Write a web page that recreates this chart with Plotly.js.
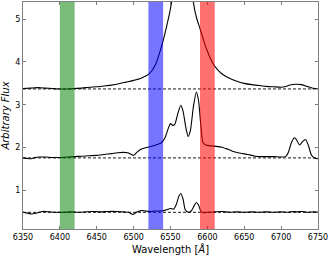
<!DOCTYPE html>
<html><head><meta charset="utf-8">
<script src="https://cdn.plot.ly/plotly-3.0.1.min.js"></script>
<style>html,body{margin:0;padding:0;background:#fff;}#plot{width:330px;height:264px;}</style>
</head><body><div id="plot"></div>
<script>
// Wavelength samples and flux values
const topWave = [6350,6360,6370,6380,6390,6400,6410,6420,6430,6440,6450,6460,6470,6480,6490,6500,6510,6515,6520,6525,6530,6535,6540,6545,6550,6555,6560,6566,6572,6577,6581,6585,6590,6595,6600,6605,6610,6615,6620,6630,6640,6650,6660,6670,6680,6690,6700,6705,6712,6720,6728,6735,6742,6750];
const topFlux = [3.38,3.39,3.40,3.39,3.38,3.37,3.37,3.38,3.39,3.41,3.42,3.44,3.46,3.49,3.53,3.57,3.62,3.66,3.71,3.80,3.95,4.20,4.50,4.85,5.25,5.90,7.50,9.50,7.80,6.30,5.40,5.05,4.78,4.50,4.25,4.05,3.90,3.80,3.72,3.62,3.55,3.50,3.47,3.45,3.43,3.42,3.41,3.42,3.46,3.48,3.47,3.43,3.39,3.37];

const midWave = [6350,6355,6360,6365,6372,6380,6390,6400,6410,6420,6430,6440,6450,6460,6470,6478,6486,6492,6496,6500,6505,6510,6515,6522,6530,6538,6543,6547,6550,6553,6556,6560,6564,6567,6571,6574,6577,6581,6585,6588,6591,6594,6598,6605,6612,6620,6628,6635,6645,6655,6665,6675,6690,6700,6706,6710,6714,6718,6721,6725,6729,6733,6737,6741,6745,6750];
const midFlux = [1.76,1.75,1.74,1.76,1.78,1.78,1.77,1.77,1.78,1.79,1.80,1.81,1.82,1.84,1.86,1.88,1.89,1.88,1.85,1.82,1.90,1.96,1.99,2.02,2.06,2.12,2.25,2.45,2.56,2.52,2.55,2.80,2.99,2.85,2.45,2.26,2.40,2.95,3.30,3.10,2.55,2.12,2.06,2.04,2.03,2.01,1.96,1.91,1.87,1.84,1.80,1.79,1.79,1.78,1.79,1.90,2.12,2.23,2.18,2.06,2.14,2.19,2.05,1.83,1.76,1.74];

const lowWave = [6350,6356,6362,6368,6377,6386,6395,6405,6415,6425,6435,6445,6455,6465,6477,6487,6493,6499,6505,6510,6516,6522,6530,6538,6545,6550,6554,6558,6561,6564,6567,6570,6574,6578,6582,6585,6588,6591,6595,6600,6610,6620,6630,6640,6650,6660,6670,6680,6690,6700,6710,6716,6722,6728,6735,6745,6750];
const lowFlux = [0.49,0.47,0.45,0.47,0.51,0.50,0.49,0.49,0.50,0.49,0.50,0.51,0.50,0.51,0.51,0.50,0.49,0.44,0.50,0.53,0.52,0.51,0.52,0.52,0.55,0.58,0.56,0.68,0.85,0.93,0.80,0.55,0.49,0.52,0.64,0.72,0.66,0.52,0.48,0.49,0.50,0.51,0.49,0.50,0.49,0.50,0.49,0.50,0.49,0.50,0.49,0.51,0.50,0.51,0.49,0.50,0.49];

// Continuum baselines (dashed)
const baselines = [3.37, 1.76, 0.49];
const waveRange = [6350, 6750];

// Highlighted bands
const bandStart = [6400, 6520, 6590];
const bandEnd   = [6420, 6540, 6610];
const bandColors = ['rgba(0,128,0,0.52)','rgba(0,0,255,0.54)','rgba(255,0,0,0.56)'];

// Tick labels
const xTicks = [6350,6400,6450,6500,6550,6600,6650,6700,6750];
const yTicks = [1,2,3,4,5];

const traces = [];
baselines.forEach(b => traces.push({
  x: waveRange, y: [b, b], mode: 'lines', hoverinfo: 'skip',
  line: {color: '#000', width: 0.9, dash: '3px,2px'}
}));
[[topWave, topFlux],[midWave, midFlux],[lowWave, lowFlux]].forEach(([x, y]) => traces.push({
  x: x, y: y, mode: 'lines', line: {color: '#000', width: 1.1, shape: 'spline', smoothing: 0.6}
}));

const shapes = bandStart.map((s, i) => ({
  type: 'rect', xref: 'x', yref: 'paper', x0: s, x1: bandEnd[i], y0: 0, y1: 1,
  fillcolor: bandColors[i], line: {width: 0}, layer: 'above'
}));

const axisCommon = {
  showline: true, linecolor: '#808080', linewidth: 1, mirror: 'ticks',
  ticks: 'inside', ticklen: 3, tickcolor: '#555', tickwidth: 0.8,
  showgrid: false, zeroline: false,
  tickfont: {family: 'DejaVu Sans', size: 8, color: '#000'}
};

const layout = {
  width: 330, height: 264,
  margin: {l: 23, r: 12, t: 2, b: 35},
  paper_bgcolor: '#fff', plot_bgcolor: '#fff',
  showlegend: false,
  xaxis: Object.assign({}, axisCommon, {
    range: waveRange, tickvals: xTicks, ticktext: xTicks.map(String),
    title: {text: 'Wavelength [<i>Å</i>]', font: {family: 'DejaVu Sans', size: 10, color: '#000'}, standoff: 5}
  }),
  yaxis: Object.assign({}, axisCommon, {
    range: [0.1, 5.4], tickvals: yTicks, ticktext: yTicks.map(String),
    title: {text: '<i>Arbitrary Flux</i>', font: {family: 'DejaVu Sans', size: 10, color: '#000'}, standoff: 4}
  }),
  shapes: shapes
};

Plotly.newPlot('plot', traces, layout, {staticPlot: true, displayModeBar: false});
</script>
</body></html>
